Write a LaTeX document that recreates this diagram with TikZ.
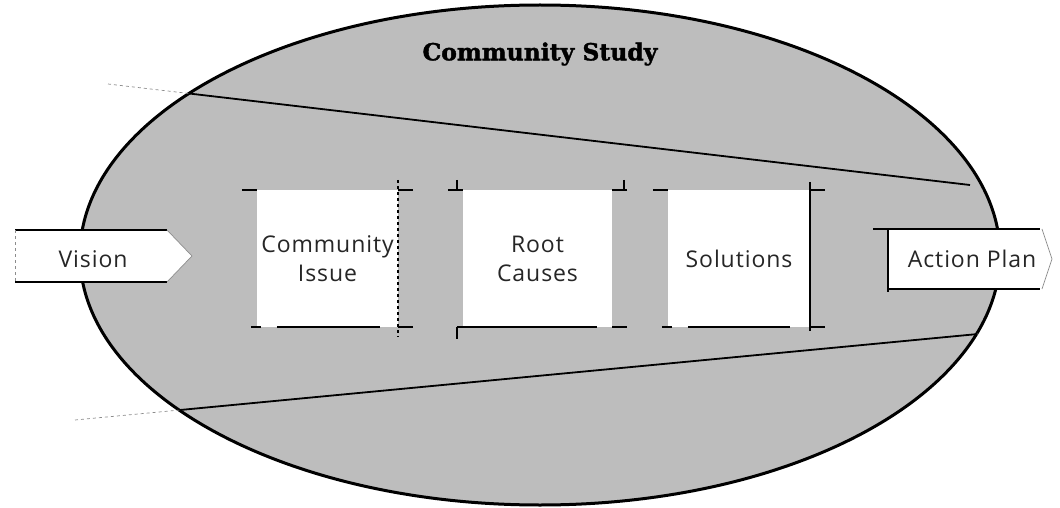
\documentclass[tikz,border=0pt]{standalone}
\usepackage{fontspec}
\setmainfont[LetterSpace=4]{Open Sans}
\newfontfamily\titlefont[FakeBold=1.6]{DejaVu Serif}
\begin{document}
\begin{tikzpicture}[x=1pt,y=-1pt,
  lbl/.style={font=\fontsize{23}{29}\selectfont, text=black!85, align=center, inner sep=0pt},
  stagebox/.style={fill=white, draw=none, inner sep=0pt, font=\fontsize{23}{29}\selectfont, text=black!85, align=center},
  rim/.style={line width=2pt, black},
  tick/.style={line width=2pt, black},
  faint/.style={black!45, line width=0.7pt}]
\useasboundingbox (0,0) rectangle (1060,508);

% the study area
\draw[line width=3pt, fill=black!26] (540,255) ellipse [x radius=460, y radius=250];

% guide lines across the study area
\coordinate (ta) at (108,84);
\coordinate (tb) at (970,185);
\coordinate (ba) at (75,420);
\coordinate (bb) at (978,334);
\draw[faint, dashed] (ta) -- (tb);
\draw[faint, dashed] (ba) -- (bb);
\begin{scope}
  \clip (540,255) ellipse [x radius=460, y radius=250];
  \draw[line width=1.8pt] (ta) -- (tb);
  \draw[line width=1.8pt] (ba) -- (bb);
\end{scope}

% title
\node[font=\titlefont\bfseries\fontsize{23.5}{26}\selectfont] (title) at (540,54) {Community Study};

% the three stages
\node[stagebox, minimum width=141pt, minimum height=137pt] (issue) at (327.5,258.5) {Community\\Issue};
\node[stagebox, minimum width=149pt, minimum height=137pt] (causes) at (537.5,258.5) {Root\\Causes};
\node[stagebox, minimum width=142pt, minimum height=137pt] (solutions) at (739,258.5) {Solutions};

% lower edges of the stages
\draw[rim] ([xshift=20pt]issue.south west) -- ([xshift=-18pt]issue.south east);
\draw[rim] (causes.south west) -- ([xshift=-15pt]causes.south east);
\draw[rim] ([xshift=20pt]solutions.south west) -- ([xshift=-20pt]solutions.south east);

% corner marks
\foreach \b in {issue,causes,solutions}{
  \draw[tick] ([xshift=-15pt]\b.north west) -- (\b.north west);
  \draw[tick] ([xshift=15pt]\b.north east) -- (\b.north east);
  \draw[tick] ([xshift=-6pt]\b.south west) -- ([xshift=4pt]\b.south west);
  \draw[tick] ([xshift=15pt]\b.south east) -- (\b.south east);
}
\draw[line width=1.5pt, dashed] ([yshift=10pt]issue.north east) -- ([yshift=-10pt]issue.south east);
\draw[line width=1.5pt] ([yshift=8pt]solutions.north east) -- ([yshift=-4pt]solutions.south east);
\draw[line width=1.5pt] ([xshift=-6pt,yshift=10pt]causes.north west) -- ([xshift=-6pt]causes.north west);
\draw[line width=1.5pt] ([xshift=-6pt]causes.south west) -- ([xshift=-6pt,yshift=-12pt]causes.south west);
\draw[line width=1.5pt] ([xshift=12pt,yshift=10pt]causes.north east) -- ([xshift=12pt]causes.north east);

% Vision arrow
\path[fill=white] (15,230) -- (167,230) -- (192,256) -- (167,282) -- (15,282) -- cycle;
\draw[rim] (15,230) -- (167,230);
\draw[rim] (15,282) -- (167,282);
\draw[faint, dashed] (15,230) -- (15,282);
\draw[faint] (167,230) -- (192,256) -- (167,282);
\node[lbl] (vision) at (93,259) {Vision};

% Action Plan box
\path[fill=white] (888,229) -- (1042,229) -- (1052,259) -- (1042,289) -- (888,289) -- cycle;
\draw[rim] (873,229) -- (1040,229);
\draw[rim] (888,289) -- (1040,289);
\draw[rim] (888,229) -- (888,292);
\draw[faint] (1042,229) -- (1052,259) -- (1042,289);
\node[lbl] (plan) at (972,259) {Action Plan};
\end{tikzpicture}
\end{document}
